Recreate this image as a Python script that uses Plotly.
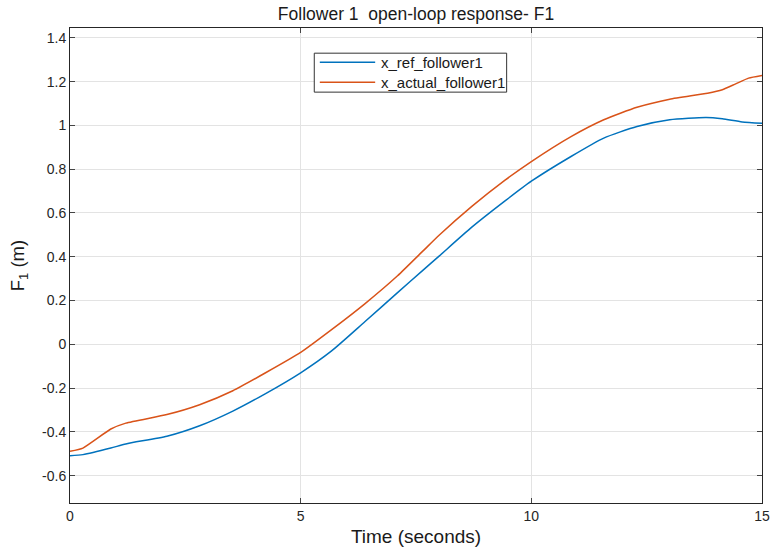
import plotly.graph_objects as go

# Reference trajectory of follower 1
t_ref = [0, 0.28, 0.885, 1.21, 2.10, 2.81, 3.53, 4.24, 5.0, 5.67, 6.39, 7.10,
         7.66, 8.0, 8.71, 9.43, 10.0, 10.86, 11.57, 12.29, 13.0, 13.79, 14.14,
         14.57, 15.0]
x_ref = [-0.509, -0.504, -0.474, -0.455, -0.42, -0.372, -0.305, -0.225, -0.13,
         -0.03, 0.103, 0.236, 0.34, 0.403, 0.535, 0.655, 0.745, 0.858, 0.942,
         0.995, 1.026, 1.036, 1.030, 1.016, 1.010]

# Measured (open-loop) trajectory of follower 1
t_act = [0, 0.28, 0.885, 1.21, 2.10, 2.81, 3.53, 4.24, 5.0, 5.67, 6.39, 7.10,
         7.66, 8.0, 8.71, 9.43, 10.0, 10.86, 11.57, 12.29, 13.0, 13.82, 14.14,
         14.43, 14.71, 15.0]
x_act = [-0.489, -0.474, -0.387, -0.36, -0.321, -0.276, -0.212, -0.13, -0.037,
         0.067, 0.185, 0.313, 0.428, 0.498, 0.630, 0.750, 0.835, 0.949, 1.026,
         1.083, 1.12, 1.147, 1.163, 1.19, 1.216, 1.228]

series_names = ["x_ref_follower1", "x_actual_follower1"]
series_colors = ["#0072BD", "#D95319"]

x_ticks = [0, 5, 10, 15]
y_ticks = [-0.6, -0.4, -0.2, 0, 0.2, 0.4, 0.6, 0.8, 1.0, 1.2, 1.4]
y_labels = ["-0.6", "-0.4", "-0.2", "0", "0.2", "0.4", "0.6", "0.8", "1", "1.2", "1.4"]

FONT = "Liberation Sans, Arial, sans-serif"

fig = go.Figure()
for tt, vv, name, color, sm in zip([t_ref, t_act], [x_ref, x_act], series_names,
                                   series_colors, [0.6, 0.5]):
    fig.add_trace(go.Scatter(x=tt, y=vv, mode="lines", name=name, showlegend=False,
                             line=dict(color=color, width=1.5, shape="spline",
                                       smoothing=sm)))

# Boxed legend in the upper middle of the axes (paper coordinates)
box_x0, box_x1, box_y0, box_y1 = 0.353, 0.631, 0.865, 0.947
row_y = [0.928, 0.886]
fig.add_shape(type="rect", xref="paper", yref="paper",
              x0=box_x0, x1=box_x1, y0=box_y0, y1=box_y1,
              line=dict(color="#333333", width=1), fillcolor="white", layer="above")
for ry, name, color in zip(row_y, series_names, series_colors):
    fig.add_shape(type="line", xref="paper", yref="paper",
                  x0=0.361, x1=0.441, y0=ry, y1=ry,
                  line=dict(color=color, width=1.5), layer="above")
    fig.add_annotation(xref="paper", yref="paper", x=0.447, y=ry, text=name,
                       showarrow=False, xanchor="left", yanchor="middle",
                       font=dict(size=15, color="#1a1a1a", family=FONT))

fig.update_layout(
    width=779, height=552,
    margin=dict(l=70, r=9, t=28, b=49),
    paper_bgcolor="white", plot_bgcolor="white",
    font=dict(family=FONT, color="#262626"),
    title=dict(text="Follower 1  open-loop response- F1", x=0.5, xref="paper",
               xanchor="center", y=0.975, yanchor="middle",
               font=dict(size=17.5, color="#1a1a1a", family=FONT)),
    showlegend=False,
)

fig.update_xaxes(
    range=[0, 15], tickvals=x_ticks, ticks="inside", ticklen=5,
    showgrid=True, gridcolor="#e3e3e3", gridwidth=1, zeroline=False,
    showline=True, linecolor="#262626", linewidth=1, mirror="allticks",
    tickfont=dict(size=14, color="#262626"),
    title=dict(text="Time (seconds)", font=dict(size=19, color="#1a1a1a"), standoff=6),
)
fig.update_yaxes(
    range=[-0.725, 1.445], tickvals=y_ticks, ticktext=y_labels, ticks="inside", ticklen=5,
    showgrid=True, gridcolor="#e3e3e3", gridwidth=1, zeroline=False,
    showline=True, linecolor="#262626", linewidth=1, mirror="allticks",
    tickfont=dict(size=14, color="#262626"),
    title=dict(text="F<sub>1</sub> (m)", font=dict(size=18.5, color="#1a1a1a"), standoff=12),
)

fig.write_html("out.html")
